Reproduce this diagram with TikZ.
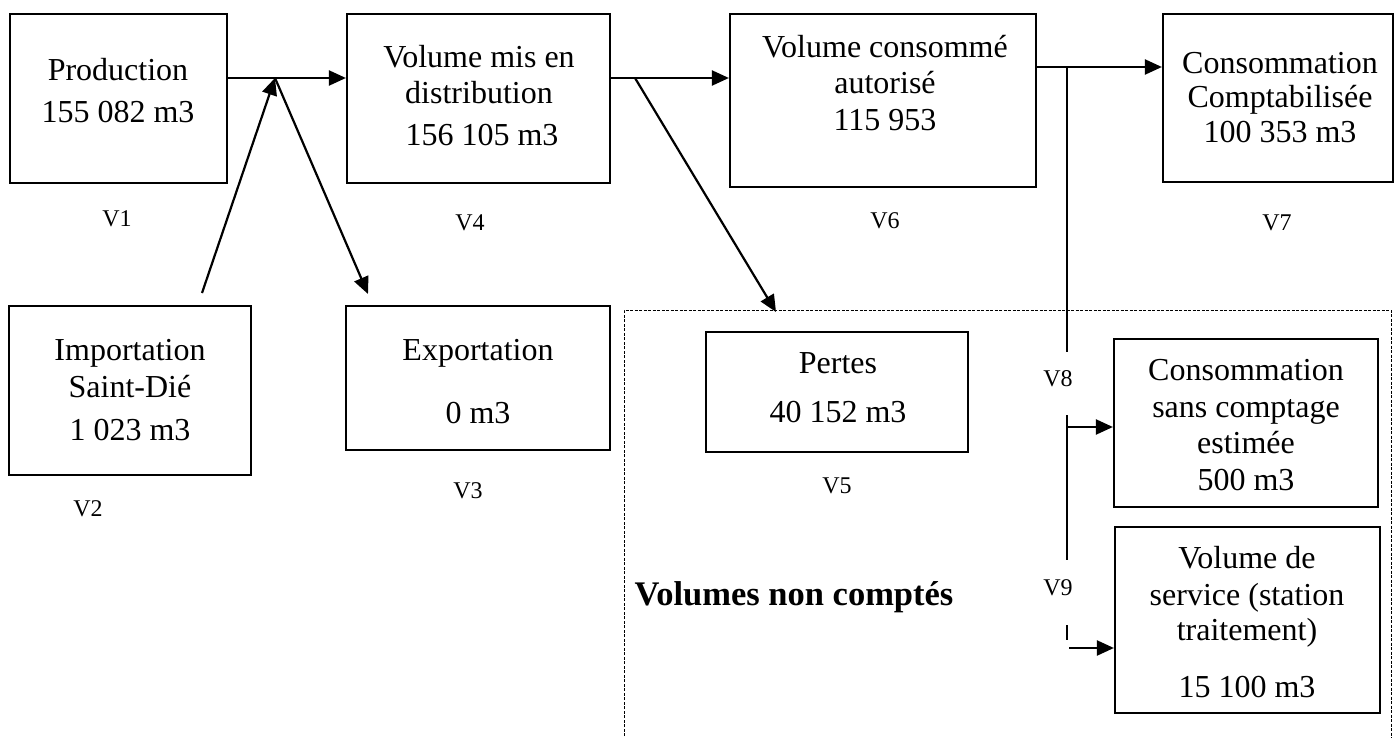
\documentclass[tikz,border=0pt]{standalone}
\usepackage{fontspec}
\setmainfont{Liberation Serif}
\usetikzlibrary{arrows.meta}
\newcommand{\tline}[4]{\node[txt] (#1) at (#2,#3+10.5) {#4};}
\newcommand{\vlab}[4]{\node[lab] (#1) at (#2,#3+8) {#4};}
\begin{document}
\begin{tikzpicture}[x=1pt,y=-1pt,
  boxn/.style={draw,line width=2.2pt,inner sep=0pt,rectangle},
  txt/.style={anchor=base,inner sep=0pt,font=\fontsize{32}{36}\selectfont},
  lab/.style={anchor=base,inner sep=0pt,font=\fontsize{24}{28}\selectfont},
  arr/.style={line width=2.2pt,-{Triangle[length=17pt,width=15pt]}},
  plain/.style={line width=2.2pt},
  dashbox/.style={line width=1pt,dash pattern=on 3pt off 1.5pt}]
\useasboundingbox (0,0) rectangle (1394,738);
\fill[white] (0,0) rectangle (1394,738);

% dashed frame of the non-counted volumes
\draw[dashbox] (624,745) -- (624,310) -- (1391,310) -- (1391,745);

% boxes
\node[boxn,minimum width=217pt,minimum height=169pt] (prod) at (118.5,98.5) {};
\node[boxn,minimum width=263pt,minimum height=169pt] (v4) at (478.5,98.5) {};
\node[boxn,minimum width=306pt,minimum height=173pt] (v6) at (883,100.5) {};
\node[boxn,minimum width=230pt,minimum height=168pt] (v7) at (1278,98) {};
\node[boxn,minimum width=242pt,minimum height=169pt] (imp) at (130,390.5) {};
\node[boxn,minimum width=264pt,minimum height=144pt] (exp) at (478,378) {};
\node[boxn,minimum width=262pt,minimum height=120pt] (pertes) at (837,392) {};
\node[boxn,minimum width=264pt,minimum height=168pt] (v8) at (1246,423) {};
\node[boxn,minimum width=265pt,minimum height=186pt] (v9) at (1247.5,620) {};

% box texts
\tline{prodA}{118}{70}{Production}
\tline{prodB}{118}{112}{155 082 m3}
\tline{v4A}{479}{57}{Volume mis en}
\tline{v4B}{479}{93}{distribution}
\tline{v4C}{482}{135}{156 105 m3}
\tline{v6A}{885}{47}{Volume consommé}
\tline{v6B}{885}{83}{autorisé}
\tline{v6C}{885}{120}{115 953}
\tline{v7A}{1280}{63}{Consommation}
\tline{v7B}{1280}{97}{Comptabilisée}
\tline{v7C}{1280}{132}{100 353 m3}
\tline{impA}{130}{350}{Importation}
\tline{impB}{130}{387}{Saint-Dié}
\tline{impC}{130}{430}{1 023 m3}
\tline{expA}{478}{350}{Exportation}
\tline{expB}{478}{413}{0 m3}
\tline{perA}{838}{363}{Pertes}
\tline{perB}{838}{412}{40 152 m3}
\tline{v8A}{1246}{370}{Consommation}
\tline{v8B}{1246}{407}{sans comptage}
\tline{v8C}{1246}{443}{estimée}
\tline{v8D}{1246}{480}{500 m3}
\tline{v9A}{1247}{558}{Volume de}
\tline{v9B}{1247}{595}{service (station}
\tline{v9C}{1247}{630}{traitement)}
\tline{v9D}{1247}{687}{15 100 m3}

% V labels
\vlab{l1}{117}{218}{V1}
\vlab{l2}{88}{508}{V2}
\vlab{l3}{468}{490}{V3}
\vlab{l4}{470}{222}{V4}
\vlab{l5}{837}{485}{V5}
\vlab{l6}{885}{220}{V6}
\vlab{l7}{1277}{222}{V7}
\vlab{l8}{1058}{378}{V8}
\vlab{l9}{1058}{587}{V9}

\node[anchor=base,inner sep=0pt,font=\fontsize{34.5}{40}\selectfont\bfseries] (vnc) at (794,605) {Volumes non comptés};

% connector points
\coordinate (j1) at (275,78);
\coordinate (i0) at (202,293);
\coordinate (e0) at (368,294);
\coordinate (j2) at (635,78);
\coordinate (p0) at (776,312);
\coordinate (j3) at (1067,67);
\coordinate (s1) at (1067,352);
\coordinate (s2) at (1067,415);
\coordinate (s3) at (1067,560);
\coordinate (a8) at (1067,427);
\coordinate (t1) at (1067,625);
\coordinate (t2) at (1067,640);
\coordinate (a9) at (1069,648);

% connectors
\draw[arr] (prod.east |- j1) -- (v4.west |- j1);
\draw[arr] (i0) -- (j1);
\draw[arr] (j1) -- (e0);
\draw[arr] (v4.east |- j2) -- (v6.west |- j2);
\draw[arr] (j2) -- (p0);
\draw[arr] (v6.east |- j3) -- (v7.west |- j3);
\draw[plain] (j3) -- (s1);
\draw[plain] (s2) -- (s3);
\draw[arr] (a8) -- (v8.west |- a8);
\draw[plain] (t1) -- (t2);
\draw[arr] (a9) -- (v9.west |- a9);
\end{tikzpicture}
\end{document}
